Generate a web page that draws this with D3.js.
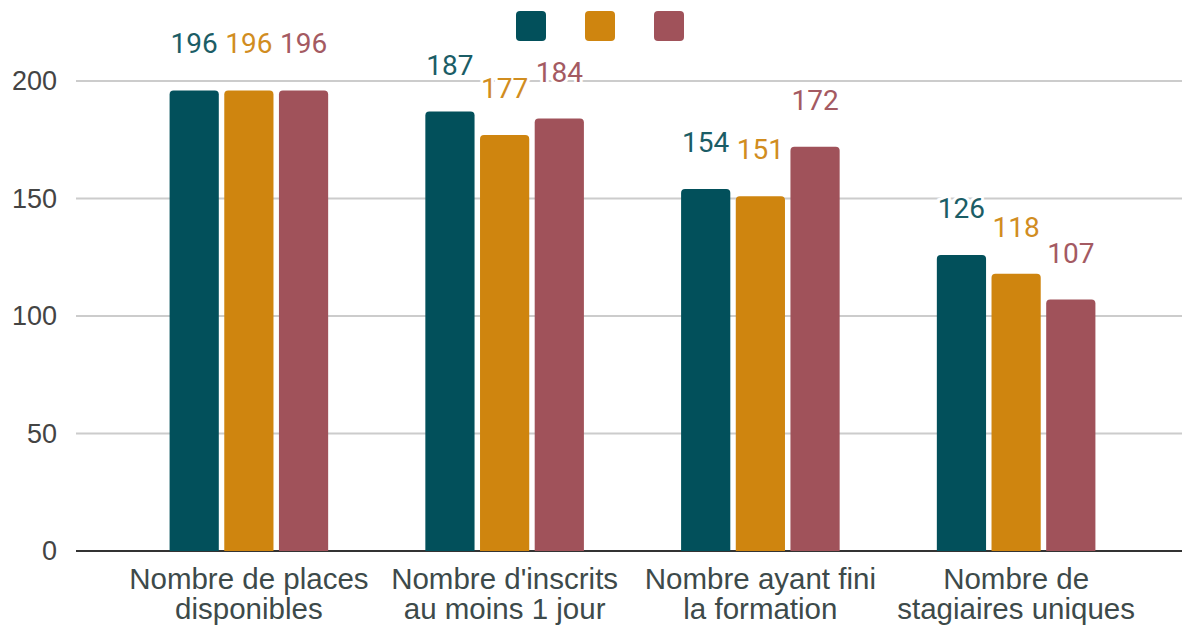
<!DOCTYPE html>
<html>
<head>
<meta charset="utf-8">
<script src="https://d3js.org/d3.v7.min.js"></script>
<style>
  body { margin: 0; background: #fff; }
</style>
</head>
<body>
<svg id="chart"></svg>
<script>
// data
const categories = [
  ["Nombre de places", "disponibles"],
  ["Nombre d'inscrits", "au moins 1 jour"],
  ["Nombre ayant fini", "la formation"],
  ["Nombre de", "stagiaires uniques"]
];
const seriesA = [196, 187, 154, 126];
const seriesB = [196, 177, 151, 118];
const seriesC = [196, 184, 172, 107];
const yTicks = [0, 50, 100, 150, 200];

const width = 1184, height = 625;
const colors = ["#02505b", "#cf850f", "#a0525a"];
const labelColors = ["#1b5d66", "#d18d1f", "#a45a62"];
const series = [seriesA, seriesB, seriesC];

const svg = d3.select("#chart").attr("width", width).attr("height", height);

const catKeys = categories.map(c => c.join(" "));
const x0 = d3.scaleBand().domain(catKeys).range([121, 1144])
  .paddingInner(0.38).paddingOuter(0.19);
const x1 = d3.scaleBand().domain([0, 1, 2]).range([0, x0.bandwidth()])
  .paddingInner(0.1);
const y = d3.scaleLinear().domain([0, 200]).range([551, 81]);

// grid lines + tick labels
const grid = svg.append("g");
grid.selectAll("line").data(yTicks).join("line")
  .attr("x1", 76).attr("x2", 1182)
  .attr("y1", d => y(d)).attr("y2", d => y(d))
  .attr("stroke", d => d === 0 ? "#333" : "#cccccc")
  .attr("stroke-width", 2);
grid.selectAll("text").data(yTicks).join("text")
  .attr("x", 57).attr("y", d => y(d))
  .attr("dy", "0.35em")
  .attr("text-anchor", "end")
  .attr("font-family", "Liberation Sans, Arial, sans-serif")
  .attr("font-size", 27)
  .attr("fill", "#444")
  .text(d => d);

// bar with rounded top corners
function barPath(x, yTop, w, yBase, r) {
  r = Math.min(r, (yBase - yTop));
  return `M${x},${yBase}V${yTop + r}Q${x},${yTop} ${x + r},${yTop}` +
    `H${x + w - r}Q${x + w},${yTop} ${x + w},${yTop + r}V${yBase}Z`;
}

const groups = svg.append("g").selectAll("g").data(catKeys).join("g")
  .attr("transform", d => `translate(${x0(d)},0)`);

groups.each(function(cat, ci) {
  const g = d3.select(this);
  series.forEach((s, si) => {
    g.append("path")
      .attr("d", barPath(x1(si), y(s[ci]), x1.bandwidth(), y(0), 4))
      .attr("fill", colors[si]);
  });
  series.forEach((s, si) => {
    g.append("text")
      .attr("x", x1(si) + x1.bandwidth() / 2)
      .attr("y", y(s[ci]) - 37)
      .attr("text-anchor", "middle")
      .attr("font-family", "Roboto, sans-serif")
      .attr("font-size", 28)
      .attr("fill", labelColors[si])
      .attr("stroke", "#fff")
      .attr("stroke-width", 6)
      .attr("paint-order", "stroke")
      .text(s[ci]);
  });
});

// category labels
categories.forEach((lines, ci) => {
  const cx = x0(catKeys[ci]) + x0.bandwidth() / 2;
  const t = svg.append("text")
    .attr("text-anchor", "middle")
    .attr("font-family", "Liberation Sans, Arial, sans-serif")
    .attr("font-size", 29.5)
    .attr("fill", "#3d4a4a");
  lines.forEach((l, li) => {
    t.append("tspan").attr("x", cx).attr("y", 589 + li * 30).text(l);
  });
});

// legend (series without names)
svg.append("g").selectAll("rect").data(colors).join("rect")
  .attr("x", (d, i) => 516 + i * 69)
  .attr("y", 11)
  .attr("width", 30).attr("height", 30)
  .attr("rx", 4)
  .attr("fill", d => d);
</script>
</body>
</html>
